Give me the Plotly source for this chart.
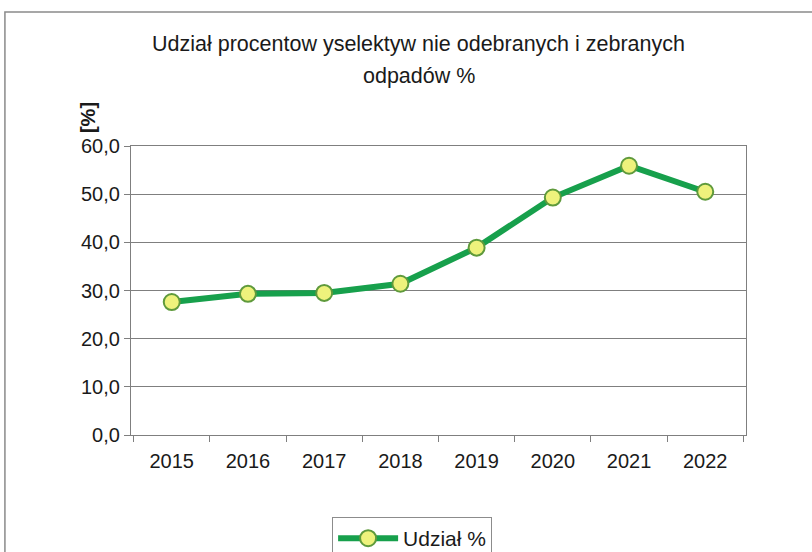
import plotly.graph_objects as go

# data
years = ["2015", "2016", "2017", "2018", "2019", "2020", "2021", "2022"]
udzial = [27.6, 29.3, 29.5, 31.4, 38.9, 49.3, 55.9, 50.5]
y_ticks = [0, 10, 20, 30, 40, 50, 60]

FONT = "Liberation Sans, Arial, sans-serif"
GRID = "#7f7f7f"

fig = go.Figure()
fig.add_trace(go.Scatter(
    x=years, y=udzial, mode="lines+markers", name="Udział %",
    line=dict(color="#17a04c", width=6),
    marker=dict(size=16, color="#eef27c", line=dict(color="#5f9a3c", width=2)),
))

fig.update_layout(
    width=812, height=552,
    margin=dict(l=131, r=66, t=146, b=117, autoexpand=False),
    paper_bgcolor="white", plot_bgcolor="white",
    font=dict(family=FONT, size=20, color="#1a1a1a"),
    separators=", ",
    showlegend=True,
    legend=dict(orientation="h", x=0.327, xanchor="left", y=-0.284, yanchor="top",
                bordercolor="#8c8c8c", borderwidth=1, font=dict(size=21),
                itemwidth=60),
    xaxis=dict(type="category", showgrid=False, showline=True, linecolor=GRID, linewidth=1.3,
               mirror=True, ticks="outside", tickson="boundaries", ticklen=6, tickcolor=GRID,
               ticklabelstandoff=8),
    yaxis=dict(range=[0, 60], tickvals=y_ticks, tickformat=".1f", showgrid=True,
               gridcolor=GRID, gridwidth=1.3, showline=True, linecolor=GRID, linewidth=1.3,
               mirror=True, ticks="outside", ticklen=6, tickcolor=GRID, zeroline=False),
)

# title lines and axis caption
fig.add_annotation(text="Udział procentow yselektyw nie odebranych i zebranych",
                   xref="paper", yref="paper", x=0.468, y=1.353, showarrow=False,
                   xanchor="center", yanchor="middle", font=dict(size=21.5))
fig.add_annotation(text="odpadów %", xref="paper", yref="paper", x=0.468, y=1.242,
                   showarrow=False, xanchor="center", yanchor="middle", font=dict(size=21.5))
fig.add_annotation(text="<b>[%]</b>", xref="paper", yref="paper", x=-0.07, y=1.1,
                   showarrow=False, textangle=-90, xanchor="center", yanchor="middle",
                   font=dict(size=20))

# outer chart frame
fig.add_shape(type="rect", xref="paper", yref="paper", x0=-0.205, x1=1.25, y0=-0.5, y1=1.464,
              line=dict(color="#8a8a8a", width=1.5), layer="below")

# drop the default body margin so the figure sits at the page corner
fig.write_html("out.html", config={"displayModeBar": False},
               post_script="document.body.style.margin='0';")
